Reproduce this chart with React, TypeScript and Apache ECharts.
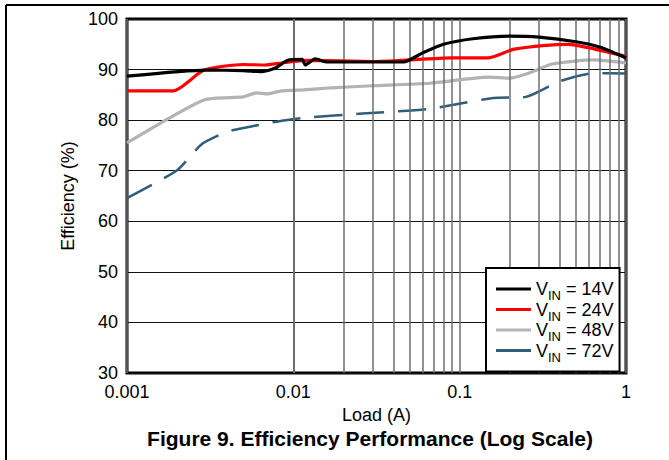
import React, { useEffect, useRef } from "react";
import * as echarts from "echarts";

const FONT = "'Liberation Sans', Arial, sans-serif";

const xTickLabels = ["0.001", "0.01", "0.1", "1"];

const load14 = [0.001, 0.003, 0.005, 0.0065, 0.0078, 0.0092, 0.0113, 0.0118, 0.0135, 0.016, 0.03, 0.046, 0.06, 0.08, 0.12, 0.2, 0.3, 0.5, 0.7, 1];
const eff14 = [88.7, 89.9, 89.8, 89.6, 90.3, 91.8, 92.0, 90.9, 92.1, 91.5, 91.5, 91.5, 93.3, 95.0, 96.1, 96.6, 96.4, 95.5, 94.4, 92.3];

const load24 = [0.001, 0.0019, 0.0029, 0.005, 0.0068, 0.0085, 0.012, 0.03, 0.044, 0.09, 0.148, 0.21, 0.33, 0.45, 0.64, 1];
const eff24 = [85.8, 85.8, 89.9, 91.0, 90.9, 91.3, 91.8, 91.6, 91.8, 92.3, 92.3, 94.0, 94.8, 95.0, 94.1, 92.6];

const load48 = [0.001, 0.0029, 0.005, 0.006, 0.007, 0.0085, 0.0115, 0.017, 0.03, 0.066, 0.15, 0.2, 0.26, 0.36, 0.64, 1];
const eff48 = [75.5, 84.0, 84.6, 85.4, 85.2, 85.8, 86.0, 86.4, 86.8, 87.3, 88.5, 88.3, 89.3, 91.1, 91.9, 91.3];

const load72 = [0.001, 0.002, 0.0028, 0.004, 0.0053, 0.007, 0.009, 0.012, 0.026, 0.064, 0.16, 0.25, 0.4, 0.64, 1];
const eff72 = [64.6, 70.1, 75.2, 77.7, 78.6, 79.4, 80.0, 80.5, 81.3, 82.2, 84.4, 84.6, 87.7, 89.3, 89.2];

const seriesNames = ["14V", "24V", "48V", "72V"];
const seriesColors = ["#000000", "#ff0000", "#b3b3b3", "#2e5e78"];

const decades = [0.001, 0.01, 0.1];
const minorMult = [2, 3, 4, 5, 6, 7, 8, 9];

function pairs(xs: number[], ys: number[]) {
  return xs.map((x, i) => [x, ys[i]]);
}

export default function App() {
  const ref = useRef<HTMLDivElement>(null);
  useEffect(() => {
    document.body.style.margin = "0";
    const chart = echarts.init(ref.current!, undefined, { renderer: "svg" });
    const minorLines: any[] = [];
    decades.forEach((d) => minorMult.forEach((m) => minorLines.push({ xAxis: d * m })));
    const datasets = [
      pairs(load14, eff14),
      pairs(load24, eff24),
      pairs(load48, eff48),
      pairs(load72, eff72),
    ];
    const series: any[] = [
      {
        type: "line",
        name: "__grid",
        data: [],
        silent: true,
        z: 1,
        markLine: {
          silent: true,
          symbol: "none",
          label: { show: false },
          lineStyle: { color: "#6e6e6e", width: 1.5, type: "solid" },
          data: minorLines,
        },
      },
    ];
    seriesNames.forEach((n, i) => {
      series.push({
        type: "line",
        name: n,
        data: datasets[i],
        showSymbol: false,
        symbol: "none",
        smooth: 0.2,
        z: 3 + (3 - i),
        lineStyle: {
          color: seriesColors[i],
          width: i === 3 ? 2.5 : 3.2,
          type: i === 3 ? [28, 14] : "solid",
        },
        itemStyle: { color: seriesColors[i] },
      });
    });
    chart.setOption({
      animation: false,
      textStyle: { fontFamily: FONT },
      grid: {
        left: 127,
        right: 43,
        top: 19,
        bottom: 87,
        show: true,
        borderColor: "#000",
        borderWidth: 3,
        backgroundColor: "transparent",
      },
      xAxis: {
        type: "log",
        logBase: 10,
        min: 0.001,
        max: 1,
        axisLine: { show: false },
        axisTick: { show: false },
        axisLabel: {
          fontSize: 18,
          color: "#000",
          fontFamily: FONT,
          margin: 10,
          formatter: (v: number) => xTickLabels[Math.round(Math.log10(v)) + 3],
        },
        splitLine: { show: true, lineStyle: { color: "#6e6e6e", width: 1.5 } },
        name: "Load (A)",
        nameLocation: "middle",
        nameGap: 30,
        nameTextStyle: { fontSize: 18, color: "#000", fontFamily: FONT },
      },
      yAxis: {
        type: "value",
        min: 30,
        max: 100,
        interval: 10,
        axisLine: { show: false },
        axisTick: { show: false },
        axisLabel: { fontSize: 18, color: "#000", fontFamily: FONT, margin: 9 },
        splitLine: { show: true, lineStyle: { color: "#111", width: 1.2 } },
        name: "Efficiency (%)",
        nameLocation: "middle",
        nameGap: 50,
        nameTextStyle: { fontSize: 18, color: "#000", fontFamily: FONT },
      },
      legend: {
        data: seriesNames,
        orient: "vertical",
        left: 486,
        top: 268,
        backgroundColor: "#fff",
        borderColor: "#000",
        borderWidth: 2,
        borderRadius: 0,
        padding: [12, 6, 8, 10],
        itemGap: -1.5,
        itemWidth: 35,
        itemHeight: 3,
        itemStyle: { borderWidth: 0 },
        icon: "rect",
        selectedMode: false,
        z: 10,
        formatter: (n: string) => `{v|V}{s|IN}{v| = ${n}}`,
        textStyle: {
          fontFamily: FONT,
          color: "#000",
          rich: {
            v: { fontSize: 18, lineHeight: 18, verticalAlign: "top", padding: [0, 0, 0, 0], fontFamily: FONT, color: "#000" },
            s: { fontSize: 13, lineHeight: 7, padding: [9, 0, 0, 0], verticalAlign: "top", fontFamily: FONT, color: "#000" },
          },
        },
      },
      title: {
        text: "Figure 9. Efficiency Performance (Log Scale)",
        left: 370,
        top: 428,
        textAlign: "center",
        padding: 0,
        textStyle: { fontSize: 21, fontWeight: "bold", color: "#000", fontFamily: FONT },
      },
      graphic: [
        { type: "line", shape: { x1: 6, y1: 5, x2: 669, y2: 5 }, style: { stroke: "#000", lineWidth: 2 }, silent: true },
        { type: "line", shape: { x1: 6, y1: 5, x2: 6, y2: 460 }, style: { stroke: "#000", lineWidth: 2 }, silent: true },
      ],
      series,
    });
    return () => chart.dispose();
  }, []);
  return <div ref={ref} style={{ width: 669, height: 460 }} />;
}
